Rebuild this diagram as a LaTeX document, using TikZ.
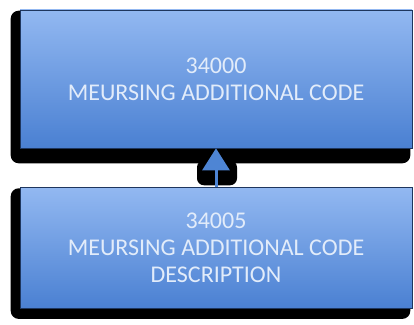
\documentclass[tikz,border=0pt]{standalone}
\usepackage{fontspec}
\setmainfont{Carlito}
\usetikzlibrary{positioning,backgrounds,arrows.meta}
\definecolor{boxtop}{HTML}{92B8F1}
\definecolor{boxbot}{HTML}{4A80D2}
\definecolor{boxline}{HTML}{1E365E}
\definecolor{boxtext}{HTML}{E2ECFA}
\definecolor{arrowblue}{HTML}{4E85D4}

\begin{document}
\begin{tikzpicture}[>=Triangle,auto,node distance=39pt,
    table node/.style={rectangle,draw=boxline,line width=0.6pt,top color=boxtop,bottom color=boxbot,
        minimum width=392pt,inner sep=0pt,align=center,text=boxtext,font=\fontsize{24}{27}\selectfont},
    shadow box/.style={fill=black,rounded corners=8pt}]

            \useasboundingbox (0,0) rectangle (414pt,324pt);

            \node[table node, minimum height=138pt] (code) at (216pt,245pt) {34000\\MEURSING ADDITIONAL CODE};
            \node[table node, minimum height=121pt] (desc) [below=of code] {34005\\MEURSING ADDITIONAL CODE\\DESCRIPTION};

            \begin{scope}[on background layer]
            \fill[shadow box] ([xshift=-9pt,yshift=-1pt]code.north west) rectangle ([xshift=-2pt,yshift=-15pt]code.south east);
            \fill[shadow box] ([xshift=-9pt,yshift=-1pt]desc.north west) rectangle ([xshift=-2pt,yshift=-10pt]desc.south east);
            \fill[shadow box,rounded corners=7pt] ([xshift=-19pt,yshift=-12pt]code.south) rectangle ([xshift=21pt,yshift=-37pt]code.south);
            \end{scope}

            \draw[->,arrowblue,line width=3pt,>={Triangle[width=27pt,length=22pt]}] (desc) to (code);

            ;
        \end{tikzpicture}
\end{document}
